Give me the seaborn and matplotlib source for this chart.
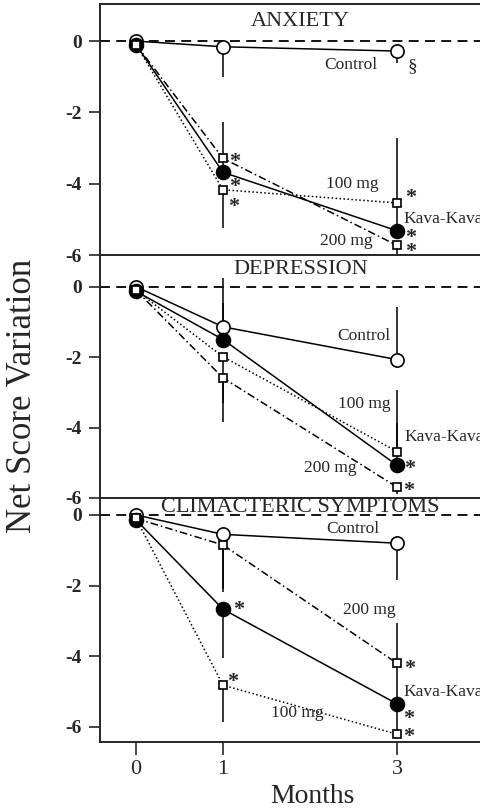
import matplotlib
matplotlib.use("Agg")
import matplotlib.pyplot as plt
import seaborn as sns

months = [0, 1, 3]
month_ticks = [0, 1, 3]
score_ticks = [0, -2, -4, -6]
panel_titles = ["ANXIETY", "DEPRESSION", "CLIMACTERIC SYMPTOMS"]

# net score variation
anx_control = [0.0, -0.16, -0.28]
anx_kava = [-0.1, -3.68, -5.32]
anx_100 = [-0.1, -4.17, -4.54]
anx_200 = [-0.1, -3.29, -5.73]

dep_control = [0.0, -1.14, -2.07]
dep_kava = [-0.13, -1.5, -5.07]
dep_100 = [-0.1, -1.99, -4.68]
dep_200 = [-0.1, -2.59, -5.69]

cli_control = [0.0, -0.55, -0.8]
cli_kava = [-0.14, -2.67, -5.35]
cli_100 = [-0.1, -4.82, -6.21]
cli_200 = [-0.1, -0.85, -4.2]

# one-sided whiskers, sign gives the direction
anx_control_err = [0, -0.85, -0.34]
anx_kava_err = [0, 1.4, 2.6]
anx_100_err = [0, -1.06, 0]
anx_200_err = [0, 0, -0.66]

dep_control_err = [0, 1.39, 1.5]
dep_kava_err = [0, 1.04, 1.2]
dep_100_err = [0, -1.3, 1.76]
dep_200_err = [0, -1.26, -0.2]

cli_control_err = [0, -1.62, -1.04]
cli_kava_err = [0, -1.39, 1.1]
cli_100_err = [0, -1.03, 0.9]
cli_200_err = [0, -1.25, 1.13]

sns.set_style("ticks")
plt.rcParams["font.family"] = ["Liberation Serif", "DejaVu Serif"]
plt.rcParams["axes.unicode_minus"] = False

# group styles: marker, face colour, line style, marker size
styles = {
    "200 mg": ("s", "white", (0, (5, 2, 1, 2)), 6),
    "100 mg": ("s", "white", (0, (1, 1.6)), 6),
    "Control": ("o", "white", "-", 9.5),
    "Kava-Kava": ("o", "black", "-", 10),
}

panels = [
    {"Control": (anx_control, anx_control_err), "Kava-Kava": (anx_kava, anx_kava_err),
     "100 mg": (anx_100, anx_100_err), "200 mg": (anx_200, anx_200_err)},
    {"Control": (dep_control, dep_control_err), "Kava-Kava": (dep_kava, dep_kava_err),
     "100 mg": (dep_100, dep_100_err), "200 mg": (dep_200, dep_200_err)},
    {"Control": (cli_control, cli_control_err), "Kava-Kava": (cli_kava, cli_kava_err),
     "100 mg": (cli_100, cli_100_err), "200 mg": (cli_200, cli_200_err)},
]

# group labels: text, x, y, alignment
labels = [
    [("Control", 2.77, -0.68, "right"), ("100 mg", 2.49, -4.0, "center"),
     ("Kava-Kava", 3.07, -4.99, "left"), ("200 mg", 2.42, -5.6, "center")],
    [("Control", 2.92, -1.41, "right"), ("100 mg", 2.63, -3.34, "center"),
     ("Kava-Kava", 3.09, -4.28, "left"), ("200 mg", 2.23, -5.16, "center")],
    [("Control", 2.49, -0.4, "center"), ("200 mg", 2.68, -2.69, "center"),
     ("Kava-Kava", 3.07, -5.0, "left"), ("100 mg", 1.86, -5.61, "center")],
]

# significance marks: symbol, group, month index, offset in px (right, down)
marks = [
    [("*", "200 mg", 1, 12, -1), ("*", "Kava-Kava", 1, 12, 11), ("*", "100 mg", 1, 11, 13),
     ("*", "100 mg", 2, 14, -9), ("*", "Kava-Kava", 2, 14, 3), ("*", "200 mg", 2, 14, 2),
     ("§", "Control", 2, 15, 16)],
    [("*", "Kava-Kava", 2, 13, 0), ("*", "200 mg", 2, 12, 0)],
    [("*", "Kava-Kava", 1, 16, -3), ("*", "100 mg", 1, 10, -7), ("*", "200 mg", 2, 13, 2),
     ("*", "Kava-Kava", 2, 12, 11), ("*", "100 mg", 2, 12, -1)],
]

title_y = [0.56, 0.48, 0.21]
ylims = [(-6, 1.04), (-6, 0.9), (-6.43, 0.48)]
boxes = [(4, 255), (255, 498), (498, 742)]

W, H = 481, 811
fig = plt.figure(figsize=(W / 100, H / 100), dpi=100)
px = 0.72  # pixels -> points

for i in range(3):
    top, bot = boxes[i]
    ax = fig.add_axes([100 / W, 1 - bot / H, (W - 100) / W, (bot - top) / H])
    ax.axhline(0, color="black", lw=1.3, ls=(0, (5.5, 3.5)), zorder=0.5)
    for name, (vals, err) in panels[i].items():
        marker, face, ls, ms = styles[name]
        for m, v, e in zip(months, vals, err):
            if e != 0:
                ax.vlines(m, v, v + e, color="black", lw=1.1, zorder=1, clip_on=False)
        sns.lineplot(x=months, y=vals, ax=ax, color="black", lw=1.1, linestyle=ls,
                     marker=marker, markersize=ms, markerfacecolor=face,
                     markeredgecolor="black", markeredgewidth=1.2, zorder=3)
    for text, x, y, ha in labels[i]:
        ax.text(x, y, text, fontsize=12.5, ha=ha, va="center", clip_on=False)
    for sym, name, k, dx, dy in marks[i]:
        vals = panels[i][name][0]
        shift = -3 if sym == "*" else 0
        ax.annotate(sym, xy=(months[k], vals[k]), xytext=(dx * px, -dy * px + shift),
                    textcoords="offset points", fontsize=16 if sym == "*" else 14,
                    fontweight="bold" if sym == "*" else "normal",
                    ha="center", va="center")
    ax.text(1.89, title_y[i], panel_titles[i], fontsize=16, ha="center", va="center")

    ax.set_xlim(-0.414, 3.966)
    ax.set_ylim(*ylims[i])
    ax.set_yticks(score_ticks)
    ax.set_yticklabels([str(t) for t in score_ticks], fontsize=14, fontweight="bold")
    ax.tick_params(axis="y", direction="out", length=8, width=1.2, pad=5)
    ax.spines["right"].set_visible(False)
    for s in ["left", "top", "bottom"]:
        ax.spines[s].set_linewidth(1.4)
    ax.set_xlabel("")
    ax.set_ylabel("")
    if i < 2:
        ax.set_xticks([])
    else:
        ax.set_xticks(month_ticks)
        ax.set_xticklabels([str(t) for t in month_ticks], fontsize=16)
        ax.tick_params(axis="x", direction="out", length=9, width=1.2, pad=4)

fig.text(312 / W, 1 - 803 / H, "Months", fontsize=20, ha="center", va="baseline")
fig.text(23 / W, 1 - 396 / H, "Net Score Variation", fontsize=25, rotation=90,
         ha="center", va="center")

fig.savefig("out.png", dpi=100)
